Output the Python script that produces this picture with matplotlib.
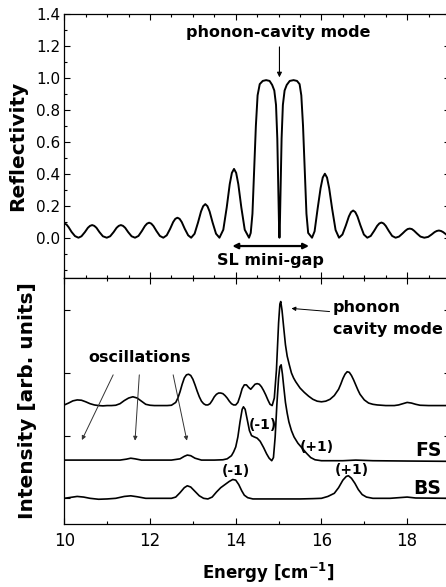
import matplotlib
matplotlib.use("Agg")
import matplotlib.pyplot as plt
from matplotlib.ticker import MultipleLocator

# ---- reflectivity (top panel) ----
refl_energy = [
    10.00, 10.05, 10.10, 10.17, 10.25, 10.33,
    10.40, 10.48, 10.55, 10.60, 10.65, 10.70, 10.75, 10.82, 10.90, 10.99,
    11.07, 11.15, 11.22, 11.27, 11.32, 11.37, 11.42, 11.49, 11.57, 11.65,
    11.73, 11.81, 11.88, 11.93, 11.98, 12.03, 12.08, 12.15, 12.23, 12.31,
    12.39, 12.47, 12.54, 12.59, 12.64, 12.69, 12.74, 12.81, 12.89, 12.96,
    13.04, 13.12, 13.19, 13.24, 13.29, 13.34, 13.39, 13.46, 13.54, 13.62,
    13.71, 13.79, 13.86, 13.91, 13.96, 14.01, 14.06, 14.13, 14.21, 14.31,
    14.35, 14.39, 14.43, 14.47, 14.51, 14.56, 14.63, 14.71, 14.79, 14.85,
    14.90, 14.94, 14.97, 14.99, 15.01, 15.02, 15.03, 15.05, 15.07, 15.10,
    15.14, 15.19, 15.26, 15.35, 15.43, 15.49, 15.53, 15.57, 15.61, 15.65,
    15.69, 15.78,
    15.84, 15.91, 15.98, 16.03, 16.08, 16.13, 16.18, 16.25, 16.33, 16.41,
    16.49, 16.57, 16.64, 16.69, 16.74, 16.79, 16.84, 16.91, 16.99, 17.07,
    17.15, 17.23, 17.30, 17.35, 17.40, 17.45, 17.50, 17.57, 17.65, 17.73,
    17.81, 17.89, 17.96, 18.01, 18.06, 18.11, 18.16, 18.23, 18.31, 18.40,
    18.49, 18.57, 18.64, 18.69, 18.74, 18.79, 18.84, 18.91, 18.99, 19.05,
]
refl_value = [
    0.088, 0.083, 0.066, 0.036, 0.010, 0.000,
    0.009, 0.035, 0.062, 0.074, 0.079, 0.074, 0.062, 0.035, 0.009, 0.000,
    0.009, 0.035, 0.062, 0.074, 0.079, 0.074, 0.062, 0.035, 0.009, 0.000,
    0.011, 0.042, 0.073, 0.088, 0.094, 0.088, 0.073, 0.042, 0.011, 0.000,
    0.015, 0.056, 0.098, 0.118, 0.125, 0.118, 0.098, 0.056, 0.015, 0.000,
    0.025, 0.095, 0.164, 0.197, 0.210, 0.197, 0.164, 0.095, 0.025, 0.000,
    0.050, 0.190, 0.335, 0.405, 0.430, 0.405, 0.335, 0.190, 0.050, 0.000,
    0.030, 0.150, 0.420, 0.700, 0.890, 0.960, 0.980, 0.985, 0.980, 0.955,
    0.920, 0.830, 0.620, 0.350, 0.080, 0.000, 0.080, 0.350, 0.620, 0.830,
    0.920, 0.955, 0.980, 0.985, 0.980, 0.960, 0.890, 0.700, 0.420, 0.150,
    0.030, 0.000,
    0.040, 0.180, 0.310, 0.376, 0.400, 0.376, 0.310, 0.180, 0.048, 0.000,
    0.020, 0.077, 0.133, 0.160, 0.170, 0.160, 0.133, 0.077, 0.020, 0.000,
    0.011, 0.043, 0.074, 0.089, 0.095, 0.089, 0.074, 0.043, 0.011, 0.000,
    0.007, 0.026, 0.044, 0.054, 0.057, 0.054, 0.044, 0.026, 0.007, 0.000,
    0.005, 0.020, 0.035, 0.042, 0.045, 0.042, 0.035, 0.020, 0.005, 0.000,
]

# ---- Raman intensity (bottom panel), arb. units with offsets ----
top_energy = [
    10.00, 10.10, 10.20, 10.30, 10.40, 10.50, 10.60, 10.70, 10.80, 10.90,
    11.00, 11.10, 11.20, 11.30, 11.40, 11.50, 11.60, 11.70, 11.80, 11.90,
    12.00, 12.10, 12.20, 12.30, 12.40, 12.50, 12.60, 12.65, 12.70, 12.75,
    12.80, 12.85, 12.90, 12.95, 13.00, 13.05, 13.10, 13.15, 13.20, 13.25,
    13.30, 13.35, 13.40, 13.45, 13.50, 13.55, 13.60, 13.65, 13.70, 13.75,
    13.80, 13.85, 13.90, 13.95, 14.00, 14.05, 14.10, 14.15, 14.20, 14.25,
    14.30, 14.35, 14.40, 14.45, 14.50, 14.55, 14.60, 14.65, 14.70, 14.75,
    14.80, 14.85, 14.90, 14.95, 15.00, 15.03, 15.05, 15.08, 15.12, 15.16,
    15.20, 15.25, 15.30, 15.35, 15.40, 15.50, 15.60, 15.70, 15.80, 15.90,
    16.00, 16.10, 16.20, 16.30, 16.40, 16.45, 16.50, 16.55, 16.60, 16.65,
    16.70, 16.75, 16.80, 16.85, 16.90, 17.00, 17.10, 17.20, 17.30, 17.50,
    17.70, 17.80, 17.90, 18.00, 18.10, 18.20, 18.30, 18.50, 19.00,
]
top_value = [
    1.49, 1.52, 1.555, 1.57, 1.565, 1.54, 1.51, 1.49, 1.48, 1.475,
    1.48, 1.48, 1.485, 1.51, 1.56, 1.60, 1.62, 1.60, 1.55, 1.50,
    1.485, 1.48, 1.48, 1.48, 1.48, 1.485, 1.53, 1.60, 1.70, 1.82,
    1.92, 1.97, 1.98, 1.96, 1.90, 1.81, 1.71, 1.62, 1.55, 1.51,
    1.49, 1.49, 1.51, 1.56, 1.62, 1.66, 1.68, 1.68, 1.67, 1.64,
    1.60, 1.55, 1.51, 1.49, 1.49, 1.53, 1.63, 1.75, 1.81, 1.81,
    1.77, 1.74, 1.78, 1.82, 1.83, 1.82, 1.78, 1.72, 1.65, 1.57,
    1.50, 1.48, 1.60, 2.05, 2.80, 3.10, 3.14, 3.00, 2.72, 2.45,
    2.27, 2.13, 2.00, 1.92, 1.86, 1.76, 1.69, 1.63, 1.58, 1.55,
    1.54, 1.55, 1.58, 1.64, 1.74, 1.82, 1.91, 1.98, 2.02, 2.01,
    1.96, 1.89, 1.81, 1.73, 1.66, 1.57, 1.52, 1.50, 1.49, 1.48,
    1.48, 1.49, 1.51, 1.53, 1.52, 1.50, 1.485, 1.48, 1.48,
]

fs_energy = [
    10.00, 10.50, 11.00, 11.30, 11.45, 11.55, 11.65, 11.80, 12.50, 12.70,
    12.80, 12.87, 12.95, 13.05, 13.20, 13.50, 13.70, 13.80, 13.90, 13.95,
    14.00, 14.05, 14.10, 14.15, 14.18, 14.22, 14.27, 14.32, 14.37, 14.43,
    14.50, 14.57, 14.65, 14.72, 14.78, 14.84, 14.88, 14.92, 14.96, 15.00,
    15.03, 15.06, 15.09, 15.12, 15.16, 15.20, 15.24, 15.30, 15.36, 15.45,
    15.55, 15.65, 15.75, 15.85, 16.00, 16.50, 16.80, 17.20, 18.00, 19.00,
]
fs_value = [
    0.61, 0.61, 0.61, 0.61, 0.625, 0.64, 0.63, 0.61, 0.61, 0.63,
    0.67, 0.69, 0.68, 0.64, 0.61, 0.61, 0.615, 0.63, 0.68, 0.74,
    0.82, 0.98, 1.22, 1.42, 1.46, 1.42, 1.25, 1.08, 1.00, 0.98,
    0.96, 0.91, 0.81, 0.71, 0.64, 0.60, 0.65, 0.98, 1.50, 1.92,
    2.10, 2.13, 1.98, 1.78, 1.53, 1.36, 1.22, 1.08, 0.98, 0.88,
    0.80, 0.72, 0.65, 0.615, 0.60, 0.60, 0.61, 0.60, 0.595, 0.59,
]

bs_energy = [
    10.00, 10.15, 10.30, 10.45, 10.60, 10.80, 11.00, 11.20, 11.40, 11.55,
    11.70, 11.90, 12.20, 12.50, 12.60, 12.70, 12.80, 12.87, 12.95, 13.05,
    13.15, 13.25, 13.35, 13.45, 13.55, 13.65, 13.75, 13.85, 13.93, 14.00,
    14.07, 14.14, 14.20, 14.28, 14.40, 15.00, 15.50, 15.80, 16.00, 16.15,
    16.30, 16.40, 16.50, 16.58, 16.63, 16.70, 16.78, 16.86, 16.95, 17.05,
    17.20, 17.60, 17.90, 18.00, 18.20, 19.00,
]
bs_value = [
    0.00, 0.015, 0.03, 0.02, 0.00, -0.015, -0.01, 0.00, 0.03, 0.04,
    0.025, 0.00, 0.00, 0.00, 0.02, 0.09, 0.17, 0.20, 0.18, 0.11,
    0.04, 0.00, -0.01, 0.02, 0.10, 0.17, 0.22, 0.27, 0.30, 0.29,
    0.22, 0.12, 0.05, 0.01, -0.01, -0.01, -0.01, -0.005, 0.00, 0.03,
    0.08, 0.17, 0.29, 0.35, 0.36, 0.32, 0.24, 0.14, 0.06, 0.02,
    0.00, 0.00, 0.015, 0.02, 0.005, 0.00,
]

xticks = [10, 12, 14, 16, 18]

fig = plt.figure(figsize=(4.46, 5.87), dpi=100)
ax1 = fig.add_axes([0.1442, 0.5269, 0.8648, 0.4497])
ax2 = fig.add_axes([0.1442, 0.1073, 0.8648, 0.4196])

ax1.plot(refl_energy, refl_value, color='k', lw=1.4)
ax2.plot(top_energy, top_value, color='k', lw=1.2)
ax2.plot(fs_energy, fs_value, color='k', lw=1.2)
ax2.plot(bs_energy, bs_value, color='k', lw=1.2)

for ax in (ax1, ax2):
    ax.set_xlim(10, 19)
    ax.set_xticks(xticks)
    for s in ax.spines.values():
        s.set_linewidth(0.9)
    ax.tick_params(which='both', direction='in', top=True, right=True, width=0.8)
    ax.tick_params(which='major', length=4.5)
    ax.tick_params(which='minor', length=2.5)

# top panel
ax1.set_ylim(-0.25, 1.4)
ax1.set_yticks([0.0, 0.2, 0.4, 0.6, 0.8, 1.0, 1.2, 1.4])
ax1.yaxis.set_minor_locator(MultipleLocator(0.1))
ax1.xaxis.set_minor_locator(MultipleLocator(0.5))
ax1.tick_params(axis='x', labelbottom=False)
ax1.tick_params(axis='y', labelsize=11, pad=3)
ax1.set_yticklabels(['0.0', '0.2', '0.4', '0.6', '0.8', '1.0', '1.2', '1.4'])
ax1.set_ylabel('Reflectivity', fontsize=14.5, fontweight='bold')
ax1.yaxis.set_label_coords(-0.097, 0.5)

ax1.text(15.0, 1.28, 'phonon-cavity mode', ha='center', va='center',
         fontsize=11.5, fontweight='bold')
ax1.annotate('', xy=(15.02, 0.985), xytext=(15.02, 1.21),
             arrowprops=dict(arrowstyle='-|>', color='k', lw=0.8, mutation_scale=7))
ax1.annotate('', xy=(13.92, -0.052), xytext=(15.71, -0.052),
             arrowprops=dict(arrowstyle='<|-|>', color='k', lw=1.6, mutation_scale=8,
                             shrinkA=0, shrinkB=0))
ax1.text(14.8, -0.14, 'SL mini-gap', ha='center', va='center',
         fontsize=11.5, fontweight='bold')

# bottom panel
ax2.set_ylim(-0.41, 3.52)
ax2.set_yticks([0, 1, 2, 3])
ax2.set_yticklabels([])
ax2.xaxis.set_minor_locator(MultipleLocator(1))
ax2.set_xticklabels([str(t) for t in xticks])
ax2.tick_params(axis='x', labelsize=12, pad=5.5)
ax2.set_ylabel('Intensity [arb. units]', fontsize=14.5, fontweight='bold')
ax2.yaxis.set_label_coords(-0.071, 0.5)
ax2.set_xlabel(r'Energy [cm$^{\mathbf{-1}}$]', fontsize=12, fontweight='bold')
ax2.xaxis.set_label_coords(0.53, -0.148)

ax2.text(11.76, 2.24, 'oscillations', ha='center', va='center',
         fontsize=11.5, fontweight='bold')
osc_arrows = [((11.14, 1.97), (10.41, 0.93)),
              ((11.75, 1.97), (11.65, 0.92)),
              ((12.54, 1.97), (12.86, 0.92))]
for tail, head in osc_arrows:
    ax2.annotate('', xy=head, xytext=tail,
                 arrowprops=dict(arrowstyle='-|>', color='#333333', lw=0.7,
                                 mutation_scale=6, shrinkA=0, shrinkB=0))

ax2.text(16.27, 3.04, 'phonon', ha='left', va='center', fontsize=11.5, fontweight='bold')
ax2.text(16.27, 2.70, 'cavity mode', ha='left', va='center', fontsize=11.5, fontweight='bold')
ax2.annotate('', xy=(15.30, 3.03), xytext=(16.19, 2.98),
             arrowprops=dict(arrowstyle='-|>', color='k', lw=0.7, mutation_scale=6,
                             shrinkA=0, shrinkB=0))

ax2.text(14.64, 1.17, '(-1)', ha='center', va='center', fontsize=10, fontweight='bold')
ax2.text(15.89, 0.82, '(+1)', ha='center', va='center', fontsize=10, fontweight='bold')
ax2.text(14.01, 0.43, '(-1)', ha='center', va='center', fontsize=10, fontweight='bold')
ax2.text(16.70, 0.45, '(+1)', ha='center', va='center', fontsize=10, fontweight='bold')
ax2.text(18.49, 0.77, 'FS', ha='center', va='center', fontsize=13.5, fontweight='bold')
ax2.text(18.46, 0.16, 'BS', ha='center', va='center', fontsize=13.5, fontweight='bold')

fig.savefig('out.png', dpi=100)
